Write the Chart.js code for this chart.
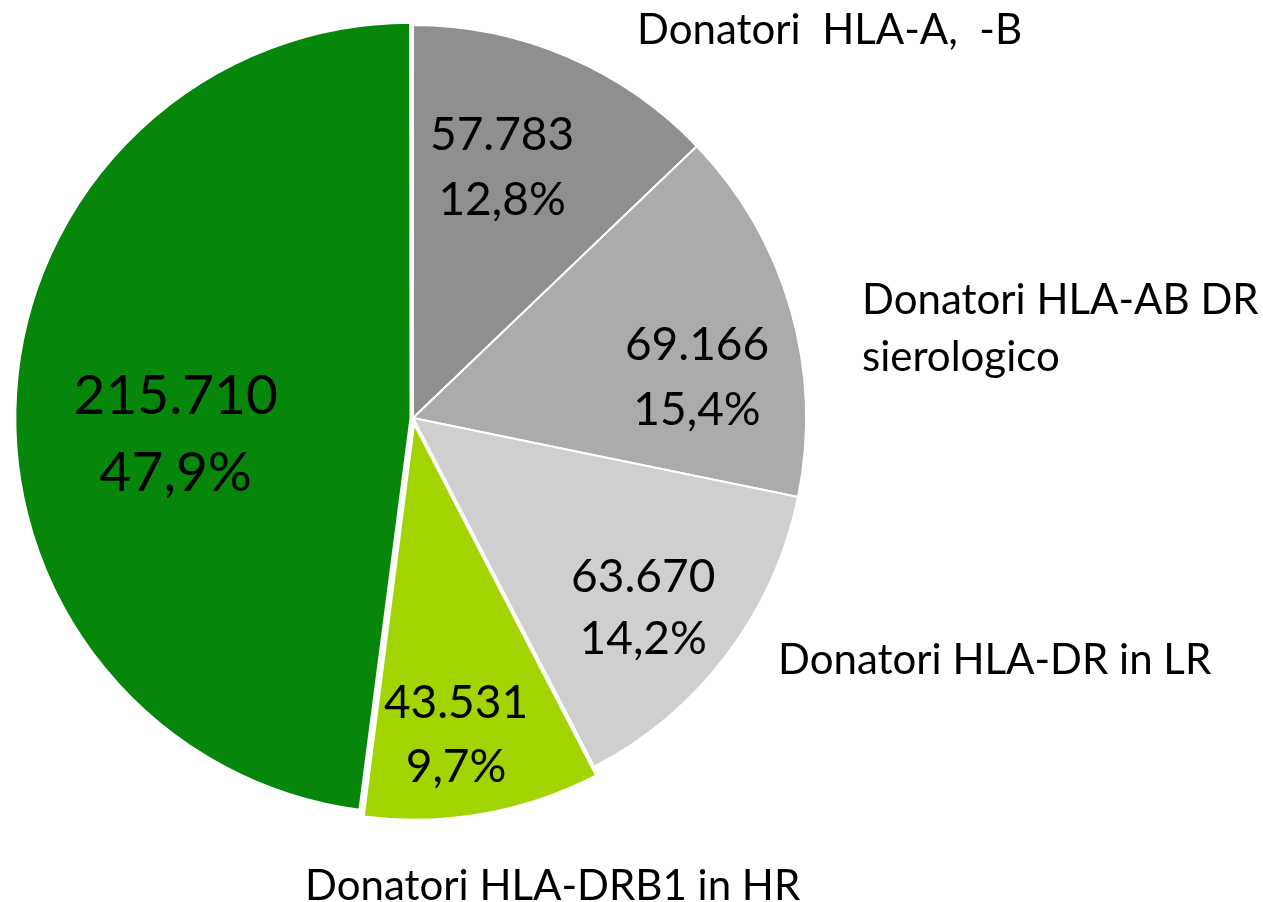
<!DOCTYPE html>
<html>
<head>
<meta charset="utf-8">
<script src="https://cdn.jsdelivr.net/npm/chart.js@4/dist/chart.umd.min.js"></script>
<style>
  html, body { margin: 0; padding: 0; background: #fff; overflow: hidden; }
  #wrap { width: 1263px; height: 902px; position: relative; }
</style>
</head>
<body>
<div id="wrap"><canvas id="pie"></canvas></div>
<script>
// dati
const categorie = [
  'Donatori  HLA-A,  -B',
  'Donatori HLA-AB DR sierologico',
  'Donatori HLA-DR in LR',
  'Donatori HLA-DRB1 in HR',
  'Donatori HLA-DRB1 in AR'
];
const valori = [57783, 69166, 63670, 43531, 215710];
const valoriTesto = ['57.783', '69.166', '63.670', '43.531', '215.710'];
const percentuali = ['12,8%', '15,4%', '14,2%', '9,7%', '47,9%'];

const colori = ['#8f8f8f', '#ababab', '#cfcfcf', '#a1d400', '#06870b'];
const FONT = 'Lato, "Open Sans", sans-serif';

// etichette dentro le fette (valore + percentuale)
const etichetteInterne = {
  id: 'etichetteInterne',
  afterDatasetsDraw(chart, args, opts) {
    const ctx = chart.ctx;
    const meta = chart.getDatasetMeta(0);
    ctx.save();
    ctx.fillStyle = '#000';
    ctx.textAlign = 'center';
    ctx.textBaseline = 'middle';
    meta.data.forEach((arc, i) => {
      const p = arc.getProps(['x', 'y', 'startAngle', 'endAngle', 'outerRadius'], true);
      const mid = (p.startAngle + p.endAngle) / 2;
      const off = opts.offsets[i] || 0;
      const cx = p.x + Math.cos(mid) * off;
      const cy = p.y + Math.sin(mid) * off;
      const a = mid + opts.shift[i] * Math.PI / 180;
      const r = p.outerRadius * opts.factor[i];
      const x = cx + Math.cos(a) * r;
      const y = cy + Math.sin(a) * r;
      const size = opts.size[i];
      const gap = opts.gap[i];
      ctx.font = size + 'px ' + FONT;
      ctx.fillText(valoriTesto[i], x, y - gap / 2);
      ctx.fillText(percentuali[i], x, y + gap / 2);
    });
    ctx.restore();
  }
};

// nomi delle categorie fuori dalla torta
const etichetteEsterne = {
  id: 'etichetteEsterne',
  afterDraw(chart, args, opts) {
    const ctx = chart.ctx;
    ctx.save();
    ctx.fillStyle = '#000';
    ctx.textAlign = 'left';
    ctx.textBaseline = 'middle';
    ctx.font = opts.size + 'px ' + FONT;
    opts.items.forEach(it => {
      it.lines.forEach((t, k) => ctx.fillText(t, it.x, it.y + k * opts.lineHeight));
    });
    ctx.restore();
  }
};

new Chart(document.getElementById('pie'), {
  type: 'pie',
  data: {
    labels: categorie,
    datasets: [{
      data: valori,
      backgroundColor: colori,
      borderColor: '#ffffff',
      borderWidth: 2,
      offset: [0, 0, 0, 25, 10],
      radius: 393
    }]
  },
  options: {
    responsive: true,
    maintainAspectRatio: false,
    animation: false,
    layout: { padding: { left: 0, top: 0, right: 437, bottom: 66 } },
    plugins: {
      legend: { display: false },
      tooltip: { enabled: false },
      etichetteInterne: {
        offsets: [0, 0, 0, 25, 10],
        factor: [0.675, 0.73, 0.76, 0.75, 0.58],
        shift: [-3.5, 8, 2.5, 2.5, -8],
        size: [46, 46, 46, 46, 55],
        gap: [65, 65, 62, 64, 77]
      },
      etichetteEsterne: {
        size: 42,
        lineHeight: 57,
        items: [
          { x: 637, y: 30, lines: [categorie[0]] },
          { x: 862, y: 300, lines: ['Donatori HLA-AB DR', 'sierologico'] },
          { x: 778, y: 660, lines: [categorie[2]] },
          { x: 305, y: 886, lines: [categorie[3]] }
        ]
      }
    }
  },
  plugins: [etichetteInterne, etichetteEsterne]
});
</script>
</body>
</html>
